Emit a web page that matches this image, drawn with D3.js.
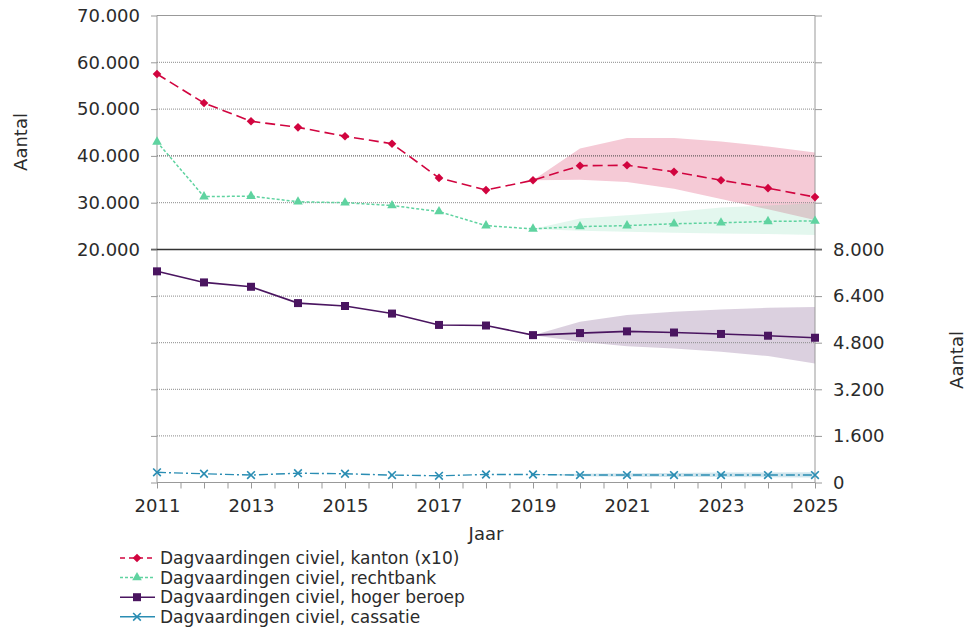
<!DOCTYPE html>
<html><head><meta charset="utf-8">
<script src="https://cdn.jsdelivr.net/npm/d3@7"></script>
<style>
body{margin:0;background:#fff}
svg{display:block}
text{font-family:"DejaVu Sans",Verdana,sans-serif;fill:#2b2b2b}
</style>
</head><body>
<svg id="c" width="970" height="627"></svg>
<script>
// ---- data ----
const years = [2011,2012,2013,2014,2015,2016,2017,2018,2019,2020,2021,2022,2023,2024,2025];
const projYears = [2019,2020,2021,2022,2023,2024,2025];

const kanton    = [57500,51300,47400,46100,44200,42600,35300,32700,34800,37900,38000,36600,34800,33100,31200]; // x10
const kantonHigh = [34800,41600,43800,43800,43100,42000,40700];
const kantonLow  = [34800,34900,34400,33000,30800,28600,26300];

const rechtbank = [43000,31300,31400,30200,30000,29400,28100,25100,24400,24900,25100,25500,25700,26000,26100];
const rechtHigh = [24400,26600,27300,28000,29000,29400,29900];
const rechtLow  = [24400,24000,23800,23600,23400,23300,23100];

const hoger     = [7250,6870,6720,6160,6060,5800,5410,5390,5060,5130,5190,5150,5100,5040,4970];
const hogerHigh = [5060,5520,5750,5860,5940,6000,6030];
const hogerLow  = [5060,4830,4680,4600,4490,4340,4090];

const cassatie  = [350,300,255,320,300,255,230,275,275,255,255,255,255,255,255];
const cassHigh  = [275,300,320,330,340,345,350];
const cassLow   = [275,215,200,190,185,180,175];

const topTicks = [20000,30000,40000,50000,60000,70000];
const botTicks = [0,1600,3200,4800,6400,8000];
const xLabelYears = [2011,2013,2015,2017,2019,2021,2023,2025];
const xTickPositions = [2011,2011.5,2012,2012.5,2013,2013.5,2014,2014.5,2015,2015.5,2016,2016.5,2017,2017.5,2018,2018.5,2019,2019.5,2020,2020.5,2021,2021.5,2022,2022.5,2023,2023.5,2024,2024.5,2025];

const legendLabels = ["Dagvaardingen civiel, kanton (x10)","Dagvaardingen civiel, rechtbank","Dagvaardingen civiel, hoger beroep","Dagvaardingen civiel, cassatie"];

// ---- setup ----
const svg = d3.select("#c");
const nl = d3.formatLocale({decimal:",",thousands:".",grouping:[3],currency:["€",""]});
const fmt = nl.format(",");

const x = d3.scaleLinear().domain([2011,2025]).range([157,815]);
const yTop = d3.scaleLinear().domain([20000,70000]).range([249.5,15.5]);
const yBot = d3.scaleLinear().domain([0,8000]).range([482.5,249.5]);

const C = {kanton:"#d1043f", recht:"#5fd3a0", hoger:"#4a1560", cass:"#2a8db3"};

// ---- bands ----
function band(hi, lo, y, color, op){
  const data = projYears.map((yr,i)=>({yr, hi:hi[i], lo:lo[i]}));
  svg.append("path").datum(data)
    .attr("d", d3.area().x(d=>x(d.yr)).y0(d=>y(d.lo)).y1(d=>y(d.hi)))
    .attr("fill", color).attr("fill-opacity", op).attr("stroke","none");
}
band(kantonHigh, kantonLow, yTop, C.kanton, 0.21);
band(rechtHigh, rechtLow, yTop, "#56cf98", 0.17);
band(hogerHigh, hogerLow, yBot, "#4a1560", 0.2);
band(cassHigh, cassLow, yBot, C.cass, 0.22);

// ---- gridlines ----
const g = svg.append("g");
[30000,50000,60000].forEach(v=>{
  g.append("line").attr("x1",157).attr("x2",815).attr("y1",yTop(v)).attr("y2",yTop(v))
   .attr("stroke","#8a8a8a").attr("stroke-dasharray","1,1");
});
g.append("line").attr("x1",157).attr("x2",815).attr("y1",yTop(40000)).attr("y2",yTop(40000))
 .attr("stroke","#444").attr("stroke-dasharray","1,1");
[1600,3200,4800,6400].forEach(v=>{
  g.append("line").attr("x1",157).attr("x2",815).attr("y1",yBot(v)).attr("y2",yBot(v))
   .attr("stroke","#8a8a8a").attr("stroke-dasharray","1,1");
});
g.append("line").attr("x1",157).attr("x2",815).attr("y1",yTop(70000)).attr("y2",yTop(70000)).attr("stroke","#999");
g.append("line").attr("x1",157).attr("x2",815).attr("y1",yBot(0)).attr("y2",yBot(0)).attr("stroke","#999");
g.append("line").attr("x1",157).attr("x2",157).attr("y1",15.5).attr("y2",482.5).attr("stroke","#999");
g.append("line").attr("x1",815).attr("x2",815).attr("y1",15.5).attr("y2",482.5).attr("stroke","#999");
g.append("line").attr("x1",151).attr("x2",822).attr("y1",yTop(20000)).attr("y2",yTop(20000)).attr("stroke","#333").attr("stroke-width",1.5);

// ---- axes ----
function styleAxis(sel){
  sel.select(".domain").remove();
  sel.selectAll(".tick line").attr("stroke","#999");
  sel.selectAll(".tick text").style("font-size","18px").attr("fill","#2b2b2b");
}
svg.append("g").attr("transform","translate(157,0)")
  .call(d3.axisLeft(yTop).tickValues(topTicks).tickSize(6).tickPadding(11).tickFormat(fmt)).call(styleAxis);
svg.append("g").attr("transform","translate(157,0)")
  .call(d3.axisLeft(yBot).tickValues(botTicks.slice(0,5)).tickSize(6).tickFormat("")).call(styleAxis);
svg.append("g").attr("transform","translate(815,0)")
  .call(d3.axisRight(yTop).tickValues(topTicks.slice(1)).tickSize(7).tickFormat("")).call(styleAxis);
svg.append("g").attr("transform","translate(815,0)")
  .call(d3.axisRight(yBot).tickValues(botTicks).tickSize(7).tickPadding(11).tickFormat(fmt)).call(styleAxis);
svg.append("g").attr("transform","translate(0,482.5)")
  .call(d3.axisBottom(x).tickValues(xTickPositions).tickSize(6).tickPadding(11)
    .tickFormat(d=> xLabelYears.includes(d) ? String(d) : "")).call(styleAxis);

// axis titles
svg.append("text").attr("x",486).attr("y",540).attr("text-anchor","middle").style("font-size","18px").text("Jaar");
svg.append("text").attr("transform","translate(27,142) rotate(-90)").attr("text-anchor","middle").style("font-size","18px").text("Aantal");
svg.append("text").attr("transform","translate(963,360) rotate(-90)").attr("text-anchor","middle").style("font-size","18px").text("Aantal");

// ---- lines ----
function series(vals, y, color, dash, width){
  const data = years.map((yr,i)=>({yr, v:vals[i]}));
  svg.append("path").datum(data)
    .attr("d", d3.line().x(d=>x(d.yr)).y(d=>y(d.v)))
    .attr("fill","none").attr("stroke",color).attr("stroke-width",width)
    .attr("stroke-dasharray",dash);
  return data;
}
const dK = series(kanton, yTop, C.kanton, "10,5", 1.6);
const dR = series(rechtbank, yTop, C.recht, "3,2", 1.5);
const dH = series(hoger, yBot, C.hoger, null, 1.6);
const dC = series(cassatie, yBot, C.cass, "9,3,2,3", 1.4);

// markers
const sym = {
  diamond: d3.symbol().type(d3.symbolDiamond2).size(48),
  triangle: d3.symbol().type(d3.symbolTriangle).size(40),
  square: d3.symbol().type(d3.symbolSquare).size(64),
  cross: d3.symbol().type(d3.symbolX).size(40)
};
function markers(data, y, path, color, isStroke){
  svg.append("g").selectAll("path").data(data).join("path")
    .attr("transform", d=>`translate(${x(d.yr)},${y(d.v)})`)
    .attr("d", path)
    .attr("fill", isStroke ? "none" : color)
    .attr("stroke", isStroke ? color : "none")
    .attr("stroke-width", isStroke ? 1.6 : 0);
}
markers(dK, yTop, sym.diamond, C.kanton);
markers(dR, yTop, sym.triangle, C.recht);
markers(dH, yBot, sym.square, C.hoger);
markers(dC, yBot, sym.cross, C.cass, true);

// ---- legend ----
const legendSpec = [
  {color:C.kanton, dash:"5,4", s:sym.diamond, stroke:false},
  {color:C.recht, dash:"3,2", s:sym.triangle, stroke:false},
  {color:C.hoger, dash:null, s:sym.square, stroke:false},
  {color:C.cass, dash:null, s:sym.cross, stroke:true}
];
const lg = svg.append("g");
legendLabels.forEach((lab,i)=>{
  const cy = 558 + i*19.6;
  const sp = legendSpec[i];
  lg.append("line").attr("x1",120).attr("x2",155).attr("y1",cy).attr("y2",cy)
    .attr("stroke",sp.color).attr("stroke-width",1.5).attr("stroke-dasharray",sp.dash);
  lg.append("path").attr("transform",`translate(137,${cy})`).attr("d",sp.s)
    .attr("fill",sp.stroke?"none":sp.color).attr("stroke",sp.stroke?sp.color:"none").attr("stroke-width",1.6);
  lg.append("text").attr("x",160).attr("y",cy+6).style("font-size","17px").text(lab);
});
</script>
</body></html>
